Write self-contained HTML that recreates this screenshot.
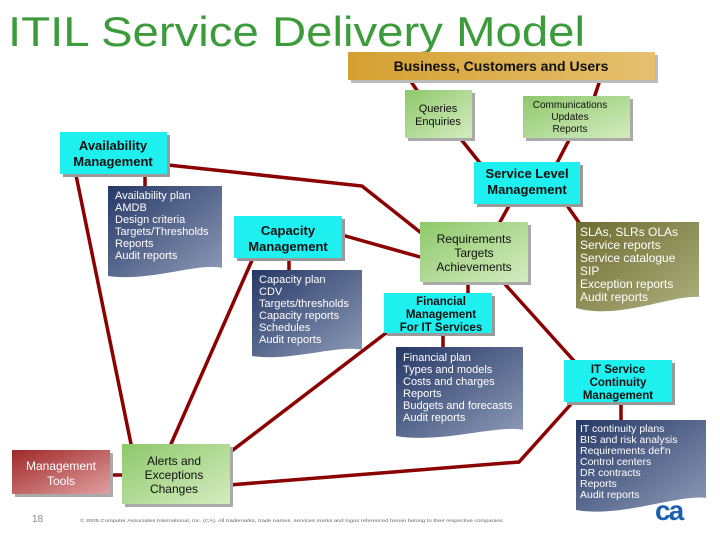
<!DOCTYPE html>
<html><head><meta charset="utf-8"><style>
html,body{margin:0;padding:0;background:#fff;width:720px;height:540px;overflow:hidden}
svg{display:block;font-family:"Liberation Sans",sans-serif}
</style></head><body>
<svg width="720" height="540" viewBox="0 0 720 540" xmlns="http://www.w3.org/2000/svg">
<defs>
<linearGradient id="gold" x1="0" y1="0" x2="1" y2="0"><stop offset="0" stop-color="#d4a030"/><stop offset="1" stop-color="#e6c070"/></linearGradient>
<linearGradient id="grn" x1="0" y1="0" x2="1" y2="1"><stop offset="0" stop-color="#8ec86a"/><stop offset="1" stop-color="#d4ecc0"/></linearGradient>
<linearGradient id="navy" x1="0" y1="0" x2="1" y2="1"><stop offset="0" stop-color="#263866"/><stop offset="1" stop-color="#8e9cb8"/></linearGradient>
<linearGradient id="olive" x1="0" y1="0" x2="1" y2="1"><stop offset="0" stop-color="#6c6c30"/><stop offset="1" stop-color="#b0b080"/></linearGradient>
<linearGradient id="red" x1="0" y1="0" x2="1" y2="1"><stop offset="0" stop-color="#a02828"/><stop offset="1" stop-color="#e0a0a0"/></linearGradient>
</defs>
<text x="8" y="46" font-family="Liberation Sans, sans-serif" font-size="42" fill="#3c9c3c" textLength="577" lengthAdjust="spacingAndGlyphs">ITIL Service Delivery Model</text>

<g stroke="#8b0000" stroke-width="3.5" fill="none" stroke-linecap="round">
<line x1="410" y1="80" x2="418" y2="92"/>
<line x1="600" y1="80" x2="594" y2="98"/>
<line x1="460" y1="138" x2="480" y2="163"/>
<line x1="570" y1="138" x2="557" y2="163"/>
<line x1="510" y1="204" x2="500" y2="222"/>
<line x1="566" y1="204" x2="580" y2="224"/>
<polyline points="168,165 362,186 420,232"/>
<line x1="342" y1="235" x2="420" y2="257"/>
<line x1="468" y1="282" x2="468" y2="293"/>
<line x1="503" y1="282" x2="575" y2="362"/>
<line x1="76" y1="175" x2="131" y2="444"/>
<line x1="253" y1="258" x2="171" y2="444"/>
<line x1="386" y1="333" x2="229" y2="453"/>
<polyline points="572,403 519,462 229,485"/>
<line x1="110" y1="475" x2="122" y2="475"/>
<line x1="145" y1="174" x2="145" y2="187"/>
<line x1="289" y1="258" x2="289" y2="271"/>
<line x1="443" y1="333" x2="443" y2="348"/>
<line x1="621" y1="402" x2="621" y2="421"/>
</g>

<g>
<rect x="351" y="55" width="307" height="28" fill="#bbb"/>
<rect x="348" y="52" width="307" height="28" fill="url(#gold)"/>
<text x="501" y="71" text-anchor="middle" font-size="14" font-weight="bold" fill="#111">Business, Customers and Users</text>

<rect x="408" y="93" width="67" height="48" fill="#aaa"/>
<rect x="405" y="90" width="67" height="48" fill="url(#grn)"/>
<text x="438" y="112" text-anchor="middle" font-size="11" fill="#111">Queries</text>
<text x="438" y="125" text-anchor="middle" font-size="11" fill="#111">Enquiries</text>

<rect x="526" y="99" width="107" height="42" fill="#aaa"/>
<rect x="523" y="96" width="107" height="42" fill="url(#grn)"/>
<text x="570" y="108" text-anchor="middle" font-size="10" fill="#111">Communications</text>
<text x="570" y="120" text-anchor="middle" font-size="10" fill="#111">Updates</text>
<text x="570" y="132" text-anchor="middle" font-size="10" fill="#111">Reports</text>

<rect x="423" y="225" width="108" height="60" fill="#aaa"/>
<rect x="420" y="222" width="108" height="60" fill="url(#grn)"/>
<text x="474" y="243" text-anchor="middle" font-size="12" fill="#111">Requirements</text>
<text x="474" y="257" text-anchor="middle" font-size="12" fill="#111">Targets</text>
<text x="474" y="271" text-anchor="middle" font-size="12" fill="#111">Achievements</text>

<rect x="125" y="447" width="108" height="60" fill="#aaa"/>
<rect x="122" y="444" width="108" height="60" fill="url(#grn)"/>
<text x="174" y="465" text-anchor="middle" font-size="12" fill="#111">Alerts and</text>
<text x="174" y="479" text-anchor="middle" font-size="12" fill="#111">Exceptions</text>
<text x="174" y="493" text-anchor="middle" font-size="12" fill="#111">Changes</text>

<rect x="15" y="453" width="98" height="44" fill="#aaa"/>
<rect x="12" y="450" width="98" height="44" fill="url(#red)"/>
<text x="61" y="470" text-anchor="middle" font-size="12" fill="#fff">Management</text>
<text x="61" y="485" text-anchor="middle" font-size="12" fill="#fff">Tools</text>
</g>

<g font-weight="bold" font-size="13" fill="#111" text-anchor="middle">
<rect x="63" y="135" width="107" height="42" fill="#999"/>
<rect x="60" y="132" width="107" height="42" fill="#1ef0f0"/>
<text x="113" y="150">Availability</text><text x="113" y="166">Management</text>
<rect x="477" y="165" width="106" height="42" fill="#999"/>
<rect x="474" y="162" width="106" height="42" fill="#1ef0f0"/>
<text x="527" y="178">Service Level</text><text x="527" y="194">Management</text>
<rect x="237" y="219" width="108" height="42" fill="#999"/>
<rect x="234" y="216" width="108" height="42" fill="#1ef0f0"/>
<text x="288" y="235">Capacity</text><text x="288" y="251">Management</text>
<rect x="387" y="296" width="108" height="40" fill="#999"/>
<rect x="384" y="293" width="108" height="40" fill="#1ef0f0"/>
<g font-size="11.5"><text x="441" y="305">Financial</text><text x="441" y="318">Management</text><text x="441" y="331">For IT Services</text>
<rect x="567" y="363" width="108" height="42" fill="#999"/>
<rect x="564" y="360" width="108" height="42" fill="#1ef0f0"/>
<text x="618" y="373">IT Service</text><text x="618" y="386">Continuity</text><text x="618" y="399">Management</text></g>
</g>

<g fill="#fff" font-size="11">
<path d="M108,186 H222 V268 C200,262 150,282 108,276 Z" fill="url(#navy)"/>
<text x="115" y="199">Availability plan</text><text x="115" y="211">AMDB</text><text x="115" y="223">Design criteria</text><text x="115" y="235">Targets/Thresholds</text><text x="115" y="247">Reports</text><text x="115" y="259">Audit reports</text>

<path d="M252,270 H362 V350 C340,344 290,362 252,356 Z" fill="url(#navy)"/>
<text x="259" y="283">Capacity plan</text><text x="259" y="295">CDV</text><text x="259" y="307">Targets/thresholds</text><text x="259" y="319">Capacity reports</text><text x="259" y="331">Schedules</text><text x="259" y="343">Audit reports</text>

<path d="M396,347 H523 V430 C500,424 440,444 396,436 Z" fill="url(#navy)"/>
<text x="403" y="361">Financial plan</text><text x="403" y="373">Types and models</text><text x="403" y="385">Costs and charges</text><text x="403" y="397">Reports</text><text x="403" y="409">Budgets and forecasts</text><text x="403" y="421">Audit reports</text>

<path d="M576,222 H699 V297 C670,295 620,320 576,308 Z" fill="url(#olive)"/>
<g font-size="12"><text x="580" y="236">SLAs, SLRs OLAs</text><text x="580" y="249">Service reports</text><text x="580" y="262">Service catalogue</text><text x="580" y="275">SIP</text><text x="580" y="288">Exception reports</text><text x="580" y="301">Audit reports</text></g>

<path d="M576,420 H706 V498 C680,494 620,518 576,510 Z" fill="url(#navy)"/>
<g font-size="10.5"><text x="580" y="432">IT continuity plans</text><text x="580" y="443">BIS and risk analysis</text><text x="580" y="454">Requirements def'n</text><text x="580" y="465">Control centers</text><text x="580" y="476">DR contracts</text><text x="580" y="487">Reports</text><text x="580" y="498">Audit reports</text></g>
</g>

<text x="32" y="522" font-size="10" fill="#888">18</text>
<text x="80" y="522" font-size="4.6" fill="#666" textLength="424" lengthAdjust="spacingAndGlyphs">© 2005 Computer Associates International, Inc. (CA). All trademarks, trade names, services marks and logos referenced herein belong to their respective companies.</text>
<text x="655" y="520" font-size="28" font-weight="bold" fill="#1a5fb0" letter-spacing="-2">ca</text>
</svg>
</body></html>
